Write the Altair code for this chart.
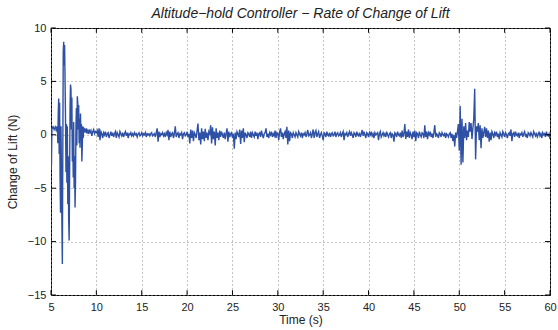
import altair as alt
import pandas as pd

# ---- data ----
burst_start = 5.0
burst_step = 0.05
burst_values = [
    -3.3, -2.8, 0.6, 0.7, 0.6, 0.6, 0.7, 0.5, 0.6, 0.6,
    0.7, 0.5, 0.6, 0.3, 0.8, -0.8, 2.0, 3.4, -1.8, 3.0,
    -4.0, -7.3, 0.8, -3.5, -8.0, -12.1, -2.0, 7.8, 8.7, 6.5,
    8.4, 5.0, 1.5, -3.5, 1.0, -4.5, 0.8, -6.5, -2.0, -8.0,
    -9.9, -4.0, 2.5, 4.7, 4.3, 0.5, 3.5, -2.5, 0.5, -4.0,
    1.2, -5.0, -2.0, -6.8, -4.5, 0.8, 2.5, -1.0, 3.6, 3.0,
    0.5, 2.8, -0.8, 1.5, -1.2, 2.0, -0.5, 1.0, -2.5, -1.0,
    0.8, -0.3, 0.7, 0.2, 0.6, 0.3, 0.5, 0.2, 0.6, 0.3,
]

calm_start = 9.0
calm_step = 0.1
calm_values = [
    0.4, 0.1, 0.5, 0.2, 0.4, -0.1, 0.3, 0.5, 0.1, 0.3,      # 9
    0.2, 0.4, -0.2, 0.6, -0.5, 0.3, 0.1, -0.3, 0.2, 0.0,    # 10
    0.3, -0.2, 0.1, 0.2, -0.3, 0.0, 0.3, -0.1, 0.2, -0.2,   # 11
    0.1, 0.3, -0.3, 0.2, 0.0, -0.2, 0.3, 0.1, -0.1, 0.2,    # 12
    -0.2, 0.1, 0.3, -0.1, 0.2, -0.3, 0.1, 0.0, 0.2, -0.1,   # 13
    0.1, -0.1, 0.2, 0.0, 0.1, -0.2, 0.1, 0.2, -0.1, 0.0,    # 14
    0.2, -0.1, 0.1, 0.0, 0.2, -0.2, 0.1, 0.0, 0.1, -0.1,    # 15
    0.1, 0.2, -0.1, 0.0, 0.1, -0.2, 0.2, 0.6, -0.65, 0.3,   # 16
    -0.2, 0.1, 0.0, 0.2, -0.1, 0.1, -0.2, 0.2, 0.0, 0.45,   # 17
    -0.5, 0.3, -0.2, 0.1, 0.2, -0.3, 0.1, 0.8, -0.2, 0.1,   # 18
    0.2, -0.3, 0.1, 0.0, 0.2, -0.4, 0.1, 0.2, -0.1, 0.0,    # 19
    0.3, -0.2, 0.1, -0.8, 0.5, -0.3, 0.4, -0.6, 0.2, 0.0,   # 20
    -0.3, 0.4, 1.05, -0.5, 0.2, -0.9, 0.6, -0.4, 0.3, -0.6, # 21
    0.55, -0.3, 0.2, -0.5, 0.3, 0.1, 0.9, -0.8, 0.7, -0.4,  # 22
    0.3, -1.0, 0.6, -0.3, 0.2, -0.5, 0.4, -0.2, 0.3, 0.0,   # 23
    -0.3, 0.2, -0.4, 0.1, 0.6, -0.65, 0.3, -0.2, 0.1, 0.2,  # 24
    -0.3, 0.1, -1.3, 0.2, -0.4, 0.3, 0.1, -0.2, 0.5, -0.85, # 25
    0.4, -0.3, 0.6, -0.7, 0.2, 0.0, -0.3, 0.2, 0.1, -0.2,   # 26
    0.3, -0.3, 0.2, 0.0, -0.2, 0.3, -0.1, 0.2, -0.4, 0.1,   # 27
    0.2, -0.2, 0.4, 0.0, -0.3, 0.1, 0.2, 0.6, -0.2, 0.1,    # 28
    -0.3, 0.2, 0.0, 0.3, -0.2, 0.1, -0.1, 0.4, -0.3, 0.2,   # 29
    0.1, -0.5, 0.3, 0.6, -0.2, 0.2, -0.4, 0.1, 0.3, -0.3,   # 30
    0.75, -0.9, 0.4, -0.6, 0.2, 0.1, -0.3, 0.2, 0.0, -0.2,  # 31
    0.2, 0.0, -0.2, 0.3, 0.1, -0.1, 0.2, -0.3, 0.1, 0.0,    # 32
    0.2, -0.2, 0.1, 0.45, -0.1, 0.0, 0.2, -0.3, 0.1, 0.5,   # 33
    -0.3, 0.2, 0.4, -0.2, 0.1, 0.3, -0.3, 0.0, 0.2, -0.1,   # 34
    -0.5, 0.2, 0.1, -0.2, 0.3, 0.0, -0.1, 0.2, -0.2, 0.1,   # 35
    0.2, -0.1, 0.0, 0.3, -0.2, 0.1, 0.2, -0.1, 0.0, 0.2,    # 36
    -0.2, 0.1, 0.3, -0.5, 0.1, 0.0, 0.2, -0.2, 0.1, 0.3,    # 37
    -0.1, 0.2, 0.0, -0.3, 0.2, 0.1, -0.2, 0.3, 0.0, -0.1,   # 38
    0.2, -0.2, 0.1, 0.45, -0.1, 0.3, 0.0, -0.3, 0.2, 0.1,   # 39
    -0.2, 0.2, 0.0, 0.3, -0.1, 0.1, -0.3, 0.2, 0.0, 0.1,    # 40
    0.2, -0.5, 0.1, 0.3, -0.2, 0.0, 0.2, -0.1, 0.1, -0.2,   # 41
    0.3, 0.0, -0.2, 0.1, 0.2, -0.3, 0.1, 0.0, -0.65, 0.2,   # 42
    0.1, -0.2, 0.3, 0.0, -0.1, 0.2, -0.3, 0.4, -0.2, 0.1,   # 43
    1.0, -0.4, 0.3, -0.2, 0.5, -0.3, 0.2, 0.0, -0.4, 0.3,   # 44
    -0.2, 0.4, -0.6, 0.2, 0.1, -0.3, 0.3, 0.0, -0.2, 0.2,   # 45
    0.1, -0.3, 0.9, -0.2, 0.3, -0.4, 0.2, 0.0, 0.3, -0.2,   # 46
    0.1, -0.3, 0.2, 0.9, -0.2, 0.1, 0.0, -0.3, 0.2, 0.1,    # 47
    -0.2, 0.2, 0.0, -0.1, 0.2, -0.3, 0.1, 0.0, -0.2, 0.1,   # 48
    0.2, -0.3, 0.1, -0.6, 0.0, -1.1, 0.2, -0.3, 0.3, 1.0,   # 49
    -1.5, 2.7, -2.8, 1.5, -2.6, 0.8, -0.3, 1.1, -0.5, 0.4,  # 50
    -0.2, 1.2, 0.3, 1.1, -0.4, 0.6, 1.5, 4.3, -2.3, 0.8,    # 51
    0.3, 1.1, -0.5, 0.9, -1.25, 0.6, -0.3, 0.2, 0.75, -0.2, # 52
    0.6, -0.3, 0.4, -0.65, 0.2, -0.5, 0.3, 0.1, -0.3, 0.2,  # 53
    0.0, 0.3, -0.2, 0.1, -0.4, 0.2, 0.0, -0.2, 0.3, 0.1,    # 54
    -0.2, 0.2, 0.0, -0.3, 0.1, 0.2, -0.1, 0.5, -0.6, 0.1,   # 55
    0.2, -0.2, 0.3, 0.0, -0.1, 0.2, -0.3, 0.1, 0.0, 0.2,    # 56
    -0.2, 0.1, 0.3, -0.1, 0.0, -0.3, 0.2, 0.1, -0.1, 0.2,   # 57
    0.0, -0.2, 0.3, 0.1, -0.1, 0.2, -0.2, 0.0, 0.3, -0.1,   # 58
    0.1, -0.3, 0.2, 0.0, 0.1, -0.2, 0.3, 0.0, -0.1, 0.1,    # 59
    -0.4,                                                   # 60
]

x_ticks = [5, 10, 15, 20, 25, 30, 35, 40, 45, 50, 55, 60]
y_ticks = [-15, -10, -5, 0, 5, 10]

title_text = "Altitude\u2212hold Controller \u2212 Rate of Change of Lift"
x_title = "Time (s)"
y_title = "Change of Lift (N)"

# ---- build table ----
times = [round(burst_start + i * burst_step, 3) for i in range(len(burst_values))]
times += [round(calm_start + i * calm_step, 3) for i in range(len(calm_values))]
vals = burst_values + calm_values
df = pd.DataFrame({"t": times, "v": vals, "order": list(range(len(vals)))})

FONT = "Liberation Sans"
xs = alt.Scale(domain=[5, 60], nice=False, zero=False)
ys = alt.Scale(domain=[-15, 10], nice=False, zero=False)

x_axis = alt.Axis(values=x_ticks, format="d", grid=True, gridDash=[1, 3], gridColor="#888888",
                  gridWidth=1, tickSize=0, domain=False, labelPadding=6, labelFontSize=11,
                  labelColor="#222222", labelFont=FONT, titleFont=FONT, titleFontSize=12,
                  titleFontWeight="normal", titleColor="#222222", titlePadding=2, labelFlush=False)
y_axis = alt.Axis(values=y_ticks, format="d", grid=True, gridDash=[1, 3], gridColor="#888888",
                  gridWidth=1, tickSize=0, domain=False, labelPadding=5, labelFontSize=11,
                  labelColor="#222222", labelFont=FONT, titleFont=FONT, titleFontSize=12,
                  titleFontWeight="normal", titleColor="#222222", titlePadding=8, labelFlush=False)

line = alt.Chart(df).mark_line(color="#2f51a5", strokeWidth=1.4, clip=True).encode(
    x=alt.X("t:Q", scale=xs, axis=x_axis, title=x_title),
    y=alt.Y("v:Q", scale=ys, axis=y_axis, title=y_title),
    order="order:Q",
)

xt = pd.DataFrame({"x": x_ticks})
yt = pd.DataFrame({"y": y_ticks})
tick_color = "#000000"
xb = alt.Chart(xt).mark_rule(color=tick_color, strokeWidth=1).encode(
    x=alt.X("x:Q", scale=xs), y=alt.datum(-15), y2=alt.datum(-14.55))
xtop = alt.Chart(xt).mark_rule(color=tick_color, strokeWidth=1).encode(
    x=alt.X("x:Q", scale=xs), y=alt.datum(10), y2=alt.datum(9.55))
yl = alt.Chart(yt).mark_rule(color=tick_color, strokeWidth=1).encode(
    y=alt.Y("y:Q", scale=ys), x=alt.datum(5), x2=alt.datum(5.55))
yr = alt.Chart(yt).mark_rule(color=tick_color, strokeWidth=1).encode(
    y=alt.Y("y:Q", scale=ys), x=alt.datum(60), x2=alt.datum(59.45))

title_mark = alt.Chart(pd.DataFrame({"label": [title_text]})).mark_text(
    font=FONT, fontSize=14, fontStyle="italic", color="#222222",
    align="center", baseline="alphabetic",
).encode(x=alt.value(249.5), y=alt.value(-10), text="label:N")

chart = alt.layer(line, xb, xtop, yl, yr, title_mark).properties(
    width=499, height=267,
    autosize=alt.AutoSizeParams(type="none"),
    padding={"left": 51, "top": 28, "right": 8, "bottom": 35},
    background="white",
).configure_view(stroke="#000000", strokeWidth=1)

chart.save("out.html", embed_options={"renderer": "svg", "actions": False})
